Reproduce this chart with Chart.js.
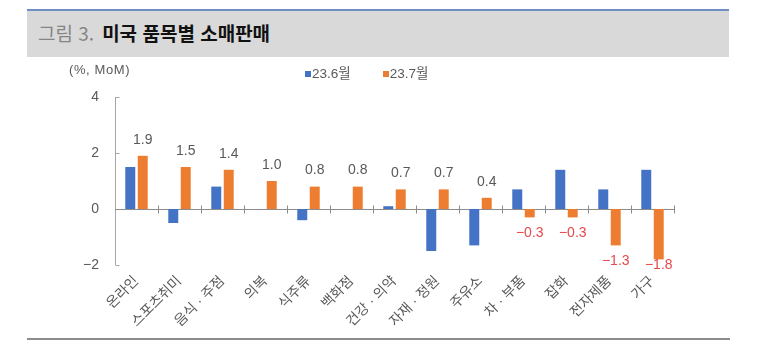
<!DOCTYPE html>
<html lang="ko">
<head>
<meta charset="utf-8">
<title>미국 품목별 소매판매</title>
<script src="https://cdn.jsdelivr.net/npm/chart.js@4/dist/chart.umd.min.js"></script>
<style>
  html, body { margin: 0; padding: 0; background: #fff; }
  body { width: 780px; height: 343px; position: relative; overflow: hidden;
         font-family: "Liberation Sans", "Noto Sans CJK KR", sans-serif; }
  #header { position: absolute; left: 27px; top: 9px; width: 702px; height: 46px;
            background: #d9d9d9; border-top: 2px solid #6f8fc4; }
  #header .t { position: absolute; left: 11px; top: 11px; font-size: 19px; line-height: 22px;
               font-family: "Noto Sans CJK KR", sans-serif; white-space: nowrap; }
  #header .num { color: #858585; }
  #header .name { color: #111; font-weight: bold; margin-left: 8px; }
  #unit { position: absolute; left: 69px; top: 62px; font-size: 13px; color: #595959;
          letter-spacing: 0.6px; font-family: "Liberation Sans", "Noto Sans CJK KR", sans-serif; }
  #legend { position: absolute; left: 305px; top: 62px; font-size: 13.5px; color: #595959;
            font-family: "Liberation Sans", "Noto Sans CJK KR", sans-serif; white-space: nowrap; }
  #legend span.item { display: inline-block; margin-right: 32px; }
  #legend i { display: inline-block; width: 6px; height: 6px; margin-right: 1px; vertical-align: 1px; }
  #rule { position: absolute; left: 27px; top: 338px; width: 703px; height: 2px; background: #8c8c8c; }
  #wrap { position: absolute; left: 0; top: 0; width: 780px; height: 343px; }
</style>
</head>
<body>
<div id="header"><div class="t"><span class="num">그림 3.</span><span class="name">미국 품목별 소매판매</span></div></div>
<div id="wrap"><canvas id="chart" width="780" height="343"></canvas></div>
<div id="unit">(%, MoM)</div>
<div id="legend"></div>
<div id="rule"></div>
<script>
// Retail sales by category, month-over-month change (%)
const categories = ['온라인', '스포츠취미', '음식 · 주점', '의복', '식주류', '백화점', '건강 · 의약',
                    '자재 · 정원', '주유소', '차 · 부품', '잡화', '전자제품', '가구'];
const seriesNames = ['23.6월', '23.7월'];
const june = [1.5, -0.5, 0.8, 0, -0.4, 0, 0.1, -1.5, -1.3, 0.7, 1.4, 0.7, 1.4];
const july = [1.9, 1.5, 1.4, 1.0, 0.8, 0.8, 0.7, 0.7, 0.4, -0.3, -0.3, -1.3, -1.8];
const yTicks = [-2, 0, 2, 4];

const colors = ['#4472c4', '#ed7d31'];
const textGray = '#595959';
const negRed = '#e5484d';
const fontFamily = '"Liberation Sans", "Noto Sans CJK KR", sans-serif';

// legend entries
const legendEl = document.getElementById('legend');
seriesNames.forEach((n, i) => {
  const s = document.createElement('span');
  s.className = 'item';
  s.innerHTML = '<i style="background:' + colors[i] + '"></i>' + n;
  legendEl.appendChild(s);
});

// zero line with category tick marks, and inner ticks on the value axis
const axisLines = {
  id: 'axisLines',
  beforeDatasetsDraw(chart) {
    const { ctx, chartArea: a, scales: { x, y } } = chart;
    const y0 = Math.round(y.getPixelForValue(0)) + 0.5;
    const ax = Math.round(a.left) + 0.5;
    ctx.save();
    ctx.lineWidth = 1;
    // value axis
    ctx.strokeStyle = '#a6a6a6';
    ctx.beginPath();
    ctx.moveTo(ax, y.getPixelForValue(yTicks[yTicks.length - 1]));
    ctx.lineTo(ax, y.getPixelForValue(yTicks[0]));
    yTicks.forEach(v => {
      const py = Math.round(y.getPixelForValue(v)) + 0.5;
      ctx.moveTo(ax, py);
      ctx.lineTo(ax + 4, py);
    });
    ctx.stroke();
    // category axis at zero
    ctx.strokeStyle = '#8c8c8c';
    ctx.beginPath();
    ctx.moveTo(a.left, y0);
    ctx.lineTo(a.right, y0);
    const w = (a.right - a.left) / categories.length;
    for (let i = 1; i <= categories.length; i++) {
      const px = Math.round(a.left + i * w) + 0.5;
      ctx.moveTo(px, y0 - 4);
      ctx.lineTo(px, y0 + 4);
    }
    ctx.stroke();
    ctx.restore();
  }
};

// value labels on the 23.7월 bars
const valueLabels = {
  id: 'valueLabels',
  afterDatasetsDraw(chart) {
    const { ctx, chartArea: a } = chart;
    const meta = chart.getDatasetMeta(1);
    ctx.save();
    ctx.font = '14px ' + fontFamily;
    ctx.textAlign = 'center';
    ctx.textBaseline = 'middle';
    meta.data.forEach((bar, i) => {
      const v = july[i];
      let ty;
      if (v >= 0) {
        ctx.fillStyle = textGray;
        ty = bar.y - 16;
      } else {
        ctx.fillStyle = negRed;
        ty = Math.min(bar.y + 16, a.bottom);
      }
      const txt = (v < 0 ? '\u2212' : '') + Math.abs(v).toFixed(1);
      ctx.fillText(txt, bar.x, ty);
    });
    ctx.restore();
  }
};

new Chart(document.getElementById('chart'), {
  type: 'bar',
  data: {
    labels: categories,
    datasets: [
      { label: seriesNames[0], data: june, backgroundColor: colors[0] },
      { label: seriesNames[1], data: july, backgroundColor: colors[1] }
    ]
  },
  options: {
    responsive: false,
    animation: false,
    devicePixelRatio: 1,
    layout: { padding: { left: 0, top: 97, right: 106, bottom: 0 } },
    datasets: { bar: { categoryPercentage: 0.58, barPercentage: 0.8 } },
    plugins: { legend: { display: false }, tooltip: { enabled: false } },
    scales: {
      x: {
        grid: { display: false, drawTicks: false },
        border: { display: false },
        ticks: {
          autoSkip: false, minRotation: 45, maxRotation: 45, padding: 8,
          color: textGray, font: { size: 14, family: fontFamily }
        },
        afterFit(s) { s.height = 78; }
      },
      y: {
        min: -2, max: 4,
        afterBuildTicks(s) { s.ticks = yTicks.map(v => ({ value: v })); },
        grid: { display: false, drawTicks: false },
        border: { display: false },
        ticks: {
          padding: 16, color: textGray, font: { size: 14, family: fontFamily },
          callback: v => (v < 0 ? '\u2212' : '') + Math.abs(v)
        },
        afterFit(s) { s.width = 115; }
      }
    }
  },
  plugins: [axisLines, valueLabels]
});
</script>
</body>
</html>
